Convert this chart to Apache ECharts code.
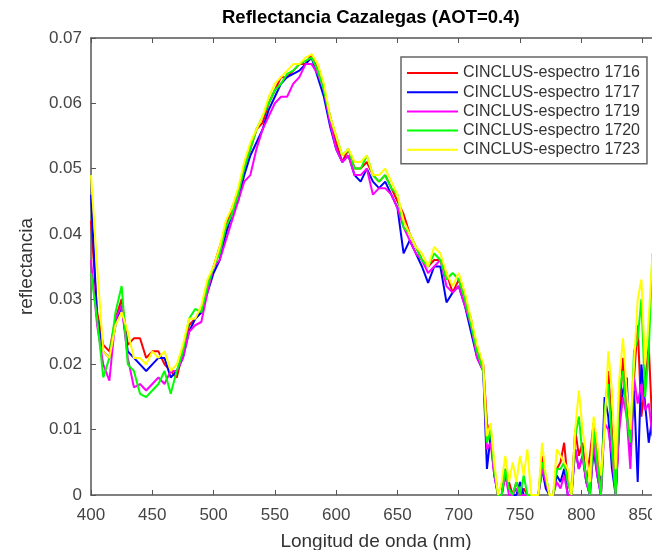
<!DOCTYPE html>
<html>
<head>
<meta charset="utf-8">
<script src="https://cdn.jsdelivr.net/npm/echarts@6.0.0/dist/echarts.min.js"></script>
<style>
  html, body { margin: 0; padding: 0; background: #fff; }
  #chart { width: 652px; height: 550px; }
</style>
</head>
<body>
<div id="chart"></div>
<script>
  // longitud de onda (nm)
  const wavelength = [
    400, 405, 410, 415, 420, 425, 430, 435, 440, 445,
    450, 455, 460, 465, 470, 475, 480, 485, 490, 495,
    500, 505, 510, 515, 520, 525, 530, 535, 540, 545,
    550, 555, 560, 565, 570, 575, 580, 585, 590, 595,
    600, 605, 610, 615, 620, 625, 630, 635, 640, 645,
    650, 655, 660, 665, 670, 675, 680, 685, 690, 695,
    700, 705, 710, 715, 720,
    723, 726, 729, 732, 735, 738, 741, 744, 747, 750,
    753, 756, 759, 762, 765, 768, 771, 774, 777, 780,
    783, 786, 789, 792, 795, 798, 801, 804, 807, 810,
    813, 816, 819, 822, 825, 828, 831, 834, 837, 840,
    843, 846, 849, 852, 855, 858
  ]

  const spec1716 = [
    .042, .028, .023, .022, .027, .030, .023, .024, .024, .021,
    .022, .022, .020, .019, .018, .022, .026, .027, .028, .032,
    .035, .038, .041, .044, .046, .050, .053, .056, .057, .060,
    .062, .064, .064, .065, .066, .066, .0675, .065, .062, .058,
    .054, .051, .053, .050, .050, .051, .049, .048, .049, .047,
    .045, .043, .040, .038, .036, .035, .036, .036, .034, .031,
    .033, .030, .027, .022, .020,
    .011, .009, .004, 0, 0, .003, .002, 0, .002, 0,
    .001, 0, 0, 0, 0, .006, .002, 0, 0, .004,
    .005, .008, .002, 0, .010, .006, .008, .002, .006, .011,
    .007, 0, .012, .019, .010, 0, .012, .021, .014, .006,
    .018, .026, .012, .017, .023, .010
  ]
  const spec1717 = [
    .046, .027, .022, .021, .026, .029, .022, .021, .020, .019,
    .020, .021, .021, .018, .019, .021, .025, .027, .028, .031,
    .034, .036, .040, .043, .045, .049, .052, .054, .056, .059,
    .061, .063, .064, .0645, .065, .066, .067, .064, .061, .0565,
    .053, .051, .052, .049, .048, .050, .048, .047, .048, .046,
    .044, .037, .039, .037, .035, .0325, .035, .035, .0295, .031,
    .032, .029, .025, .021, .019,
    .004, .009, .003, 0, 0, .004, .001, 0, 0, .002,
    0, 0, 0, 0, 0, .004, .001, 0, 0, .003,
    .002, .004, 0, 0, .007, .004, .006, .002, 0, .007,
    .003, 0, .015, .012, .004, 0, .011, .016, .018, .006,
    .016, .002, .020, .014, .008, .012
  ]
  const spec1719 = [
    .036, .026, .020, .0175, .027, .029, .021, .0165, .017, .016,
    .017, .018, .017, .019, .019, .021, .025, .026, .0265, .031,
    .035, .036, .039, .042, .045, .048, .049, .053, .056, .058,
    .060, .061, .061, .063, .064, .066, .066, .0645, .062, .057,
    .053, .051, .052, .049, .049, .050, .046, .047, .047, .046,
    .044, .041, .039, .037, .036, .034, .035, .036, .032, .031,
    .032, .029, .026, .021, .019,
    .007, .008, .003, 0, 0, .003, 0, 0, .001, 0,
    0, 0, 0, 0, 0, .004, .002, 0, 0, .002,
    .001, .003, 0, 0, .007, .004, .006, .002, 0, .008,
    .003, 0, .011, .010, .006, 0, .010, .015, .012, .004,
    .018, .014, .017, .013, .014, .009
  ]
  const spec1720 = [
    .034, .027, .018, .021, .028, .032, .020, .019, .0155, .015,
    .016, .017, .019, .0155, .019, .022, .027, .0285, .028, .032,
    .035, .037, .041, .043, .046, .050, .053, .056, .058, .060,
    .062, .063, .0645, .065, .066, .0665, .067, .065, .062, .058,
    .055, .052, .053, .050, .050, .052, .049, .048, .049, .047,
    .046, .041, .040, .038, .036, .035, .037, .036, .033, .034,
    .033, .030, .026, .022, .019,
    .008, .010, .004, 0, 0, .004, .001, 0, .002, 0,
    .003, 0, 0, 0, 0, .005, .003, 0, 0, .004,
    .004, .005, .002, 0, .009, .012, .006, .003, 0, .010,
    .005, 0, .013, .017, .008, 0, .016, .019, .012, .008,
    .022, .024, .030, .015, .022, .037
  ]
  const spec1723 = [
    .049, .035, .022, .021, .026, .028, .025, .021, .021, .020,
    .022, .021, .022, .019, .020, .023, .027, .027, .029, .033,
    .035, .038, .042, .044, .047, .051, .054, .056, .058, .061,
    .063, .064, .065, .066, .066, .067, .0675, .066, .063, .058,
    .055, .052, .053, .051, .051, .052, .049, .049, .050, .048,
    .046, .042, .040, .038, .037, .035, .038, .037, .034, .032,
    .034, .031, .027, .023, .020,
    .009, .011, .005, 0, .002, .006, .002, .005, .002, .006,
    .003, .007, 0, 0, 0, .008, .003, 0, 0, .007,
    .006, .005, .004, 0, .010, .016, .010, .006, .002, .012,
    .008, .003, .010, .022, .016, .004, .018, .024, .016, .010,
    .020, .030, .033, .020, .027, .037
  ]

  const seriesNames = [
    'CINCLUS-espectro 1716',
    'CINCLUS-espectro 1717',
    'CINCLUS-espectro 1719',
    'CINCLUS-espectro 1720',
    'CINCLUS-espectro 1723'
  ]
  const seriesValues = [spec1716, spec1717, spec1719, spec1720, spec1723]
  const seriesColors = ['#ff0000', '#0000ff', '#ff00ff', '#00ff00', '#ffff00']

  const axisColor = '#555'
  const labelColor = '#444'
  const font = 'Liberation Sans, Arial, sans-serif'

  const chart = echarts.init(document.getElementById('chart'), null, { renderer: 'canvas' })

  const series = seriesNames.map((name, i) => ({
    name: name,
    type: 'line',
    showSymbol: false,
    symbol: 'none',
    clip: true,
    lineStyle: { width: 2, color: seriesColors[i] },
    itemStyle: { color: seriesColors[i] },
    data: wavelength.map((w, j) => [w, seriesValues[i][j]])
  }))

  chart.setOption({
    animation: false,
    backgroundColor: '#fff',
    title: {
      text: 'Reflectancia Cazalegas (AOT=0.4)',
      left: 222,
      top: 8,
      padding: 0,
      textStyle: { fontFamily: font, fontSize: 18.5, fontWeight: 'bold', color: '#000' }
    },
    legend: {
      left: 401,
      top: 57,
      orient: 'vertical',
      padding: [8, 7, 6, 6],
      itemGap: 3.2,
      itemWidth: 51,
      itemHeight: 2,
      icon: 'rect',
      backgroundColor: '#fff',
      borderColor: '#666',
      borderWidth: 1.5,
      textStyle: { fontFamily: font, fontSize: 16, color: '#333', lineHeight: 16 },
      data: seriesNames
    },
    grid: {
      left: 91,
      top: 38,
      right: -9,
      bottom: 55,
      containLabel: false,
      outerBoundsMode: 'none'
    },
    xAxis: [{
      type: 'value',
      min: 400,
      max: 865,
      interval: 50,
      name: 'Longitud de onda (nm)',
      nameLocation: 'middle',
      nameGap: 37,
      nameTextStyle: { fontFamily: font, fontSize: 19, color: '#333' },
      axisLine: { lineStyle: { color: axisColor, width: 1.5 } },
      axisTick: { inside: true, length: 5, lineStyle: { color: axisColor } },
      axisLabel: { showMaxLabel: false, margin: 12, fontFamily: font, fontSize: 17, color: labelColor },
      splitLine: { show: false }
    }, {
      type: 'value',
      position: 'top',
      min: 400,
      max: 865,
      interval: 50,
      axisLine: { lineStyle: { color: axisColor, width: 1.5 } },
      axisTick: { inside: true, length: 5, lineStyle: { color: axisColor } },
      axisLabel: { show: false },
      splitLine: { show: false }
    }],
    yAxis: {
      type: 'value',
      min: 0,
      max: 0.07,
      interval: 0.01,
      name: 'reflectancia',
      nameLocation: 'middle',
      nameGap: 55,
      nameTextStyle: { fontFamily: font, fontSize: 19, color: '#333' },
      axisLine: { show: true, lineStyle: { color: axisColor, width: 1.5 } },
      axisTick: { show: true, inside: true, length: 5, lineStyle: { color: axisColor } },
      axisLabel: { margin: 9, fontFamily: font, fontSize: 17, color: labelColor },
      splitLine: { show: false }
    },
    series: series
  })
</script>
</body>
</html>
